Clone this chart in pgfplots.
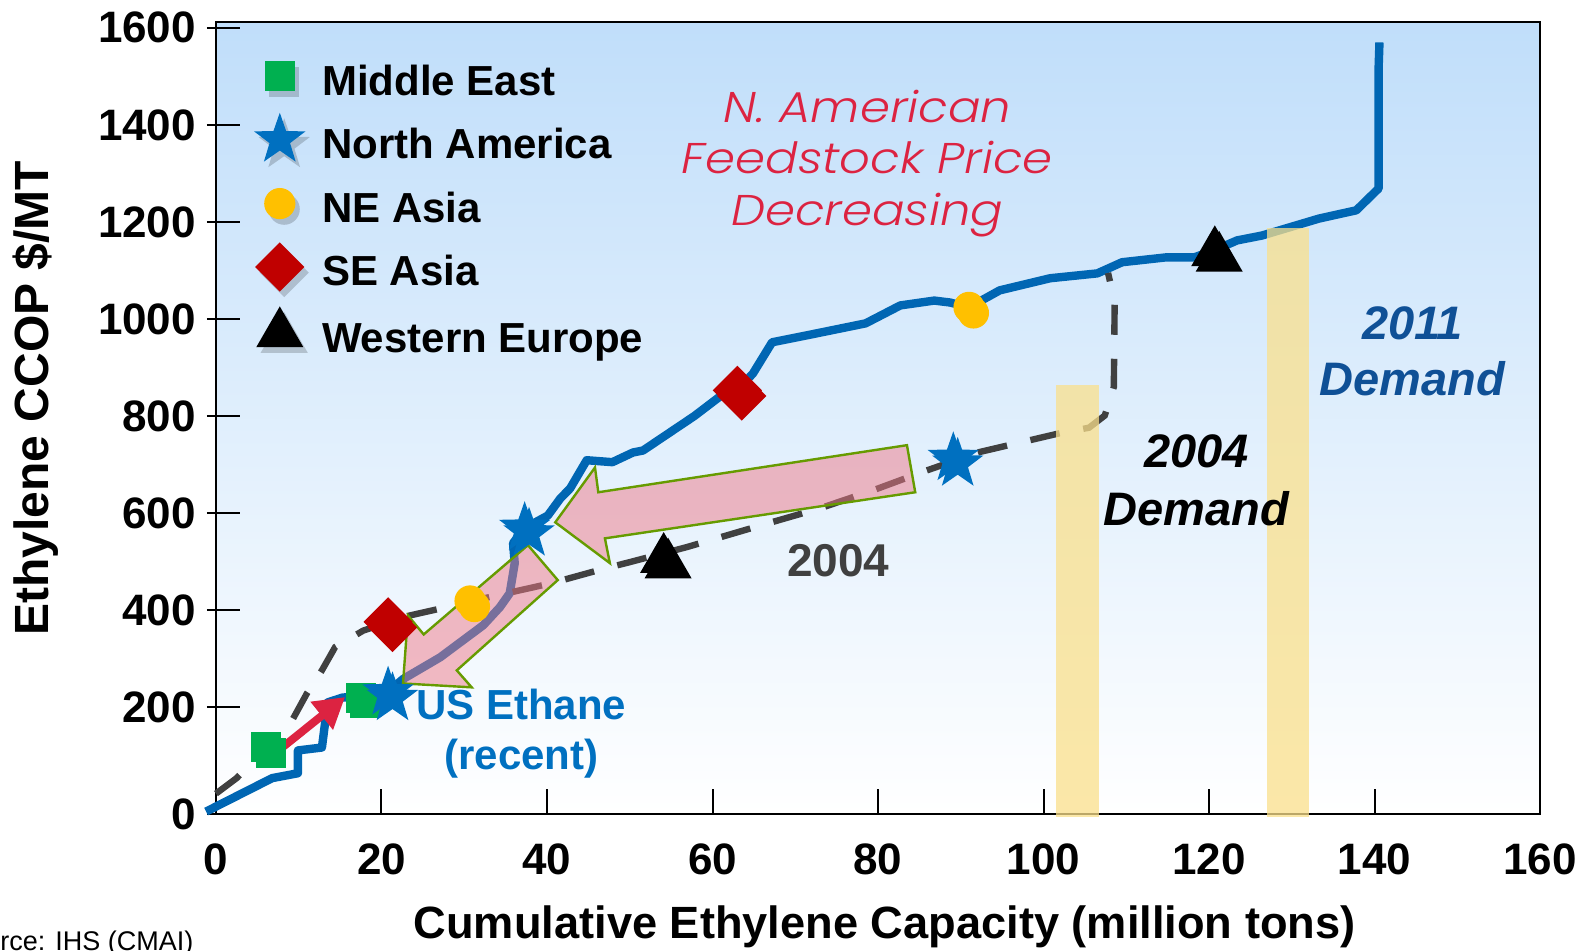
\documentclass[border=0pt]{standalone}
\usepackage{fontspec}
\setmainfont{Liberation Sans}
\newfontfamily\gothic[FakeStretch=1.12]{Poppins Light}
\usepackage{pgfplots}
\usepackage{pgfplotstable}
\pgfplotsset{compat=1.18}
\usetikzlibrary{arrows.meta}

\definecolor{curveblue}{RGB}{0,102,179}
\definecolor{dashgray}{RGB}{64,64,64}
\definecolor{crimson}{RGB}{220,35,65}
\definecolor{megreen}{RGB}{0,176,80}
\definecolor{nablue}{RGB}{0,112,192}
\definecolor{neyellow}{RGB}{255,192,0}
\definecolor{sered}{RGB}{192,0,0}
\definecolor{bgblue}{RGB}{192,222,250}
\definecolor{barfill}{RGB}{250,224,140}
\definecolor{arrowpink}{RGB}{238,120,135}
\definecolor{arrowgreen}{RGB}{102,155,0}
\definecolor{demandblue}{RGB}{15,80,150}

% filled marks
\pgfdeclareplotmark{fsquare}{%
  \pgfpathrectangle{\pgfqpoint{-\pgfplotmarksize}{-\pgfplotmarksize}}{\pgfqpoint{2\pgfplotmarksize}{2\pgfplotmarksize}}%
  \pgfusepathqfill}
\pgfdeclareplotmark{fcircle}{%
  \pgfpathcircle{\pgfpointorigin}{\pgfplotmarksize}\pgfusepathqfill}
\pgfdeclareplotmark{fdiamond}{%
  \pgfpathmoveto{\pgfqpoint{0pt}{\pgfplotmarksize}}%
  \pgfpathlineto{\pgfqpoint{\pgfplotmarksize}{0pt}}%
  \pgfpathlineto{\pgfqpoint{0pt}{-\pgfplotmarksize}}%
  \pgfpathlineto{\pgfqpoint{-\pgfplotmarksize}{0pt}}%
  \pgfpathclose\pgfusepathqfill}
\pgfdeclareplotmark{ftriangle}{%
  \pgfpathmoveto{\pgfqpoint{0pt}{\pgfplotmarksize}}%
  \pgfpathlineto{\pgfqpointpolar{210}{\pgfplotmarksize}}%
  \pgfpathlineto{\pgfqpointpolar{330}{\pgfplotmarksize}}%
  \pgfpathclose\pgfusepathqfill}
\pgfdeclareplotmark{fstar}{%
  \pgfpathmoveto{\pgfqpointpolar{90}{\pgfplotmarksize}}%
  \pgfpathlineto{\pgfqpointpolar{126}{0.4\pgfplotmarksize}}%
  \pgfpathlineto{\pgfqpointpolar{162}{\pgfplotmarksize}}%
  \pgfpathlineto{\pgfqpointpolar{198}{0.4\pgfplotmarksize}}%
  \pgfpathlineto{\pgfqpointpolar{234}{\pgfplotmarksize}}%
  \pgfpathlineto{\pgfqpointpolar{270}{0.4\pgfplotmarksize}}%
  \pgfpathlineto{\pgfqpointpolar{306}{\pgfplotmarksize}}%
  \pgfpathlineto{\pgfqpointpolar{342}{0.4\pgfplotmarksize}}%
  \pgfpathlineto{\pgfqpointpolar{18}{\pgfplotmarksize}}%
  \pgfpathlineto{\pgfqpointpolar{54}{0.4\pgfplotmarksize}}%
  \pgfpathclose\pgfusepathqfill}

% 2011 cost curve
\pgfplotstableread{
x y
-1.2 -15
6.8 54
9.9 64
9.9 111
12.8 117
13.5 210
15.3 220
17.5 222
20.8 232
22.6 258
27.1 303
32.3 369
34.3 406
35.5 435
36.1 497
35.9 538
37.3 569
40.1 595
41.6 630
42.8 651
44.8 709
47.9 705
50.4 725
51.6 729
57.8 800
60.8 839
63.0 853
64.9 888
67.2 952
71.3 966
78.5 991
82.7 1028
86.8 1038
88.7 1034
91.0 1024
94.7 1059
100.8 1084
106.5 1094
109.5 1117
114.8 1127
118.2 1127
120.7 1142
123.4 1162
126.4 1172
133.3 1207
137.8 1224
140.5 1269
140.5 1519
140.6 1570
}\curveeleven

% 2004 cost curve
\pgfplotstableread{
x y
0 22
2.5 54
9.2 173
11.0 229
12.8 276
14.4 324
17.8 358
20.8 375
23.4 389
27.3 404
30.7 418
40.4 455
47.0 486
50.0 499
56.9 530
66.5 578
73.0 610
79.4 647
85.9 688
92.3 726
101.8 764
105.5 776
107.4 801
108.5 860
108.6 1035
107.8 1095
}\curvefour

% regional markers
\pgfplotstableread{
x y
6.1 118
17.5 220
}\middleeast
\pgfplotstableread{
x y
20.8 230
37.3 569
89.1 713
}\northamerica
\pgfplotstableread{
x y
30.7 419
91.0 1024
}\neasia
\pgfplotstableread{
x y
20.8 376
63.0 853
}\seasia
\pgfplotstableread{
x y
54.1 505
120.7 1137
}\westeurope

\pgfplotsset{
  me/.style={mark=fsquare, mark size=7.5pt, mark options={fill=megreen}},
  na/.style={mark=fstar, mark size=13.5pt, mark options={fill=nablue}},
  ne/.style={mark=fcircle, mark size=7.8pt, mark options={fill=neyellow}},
  se/.style={mark=fdiamond, mark size=12.3pt, mark options={fill=sered}},
  we/.style={mark=ftriangle, mark size=13.6pt, mark options={fill=black}},
  markshadow/.style={forget plot, only marks, xshift=2.2pt, yshift=-2.8pt,
    mark options={fill=black, fill opacity=0.18}},
  markplot/.style={forget plot, only marks},
}

\begin{document}
\begin{tikzpicture}
\path[use as bounding box] (-108pt,-68pt) rectangle (682.5pt,407pt);
\begin{axis}[
  at={(0pt,0pt)}, anchor=south west,
  scale only axis, width=662pt, height=396pt,
  xmin=0, xmax=160, ymin=-20, ymax=1612,
  clip=false,
  axis background/.style={shade, top color=bgblue, bottom color=white},
  axis line style={line width=1.2pt, black},
  tick pos=left, tick align=inside,
  major tick length=12.5pt,
  xtick={0,20,...,160},
  ytick={200,400,...,1600},
  extra y ticks={-20}, extra y tick labels={0},
  extra y tick style={major tick length=0pt},
  xtick style={line width=1pt, black},
  ytick style={line width=1.2pt, black, /pgfplots/major tick length=16.5pt, xshift=-4.5pt},
  /pgf/number format/assume math mode=true,
  /pgf/number format/1000 sep={},
  tick label style={font=\bfseries\fontsize{22}{26}\selectfont},
  xticklabel style={yshift=-11.5pt},
  yticklabel style={xshift=-6.5pt},
  xlabel={Cumulative Ethylene Capacity (million tons)},
  ylabel={Ethylene CCOP \$/MT},
  xlabel style={at={(axis description cs:0.505,-0.142)}, anchor=center,
    font=\bfseries\fontsize{22.6}{27}\selectfont},
  ylabel style={at={(axis description cs:-0.136,0.525)}, anchor=center, rotate=0,
    font=\bfseries\fontsize{24}{28}\selectfont},
  legend image code/.code={%
    \path[#1, mark options={fill=black, fill opacity=0.18}] plot coordinates {(2.2pt,-3.3pt)};
    \path[#1] plot coordinates {(0pt,-0.5pt)};
  },
  legend cell align=left,
  legend style={at={(axis description cs:0.0288,0.968)}, anchor=north west,
    draw=none, fill=none, inner sep=0pt, outer sep=0pt,
    font=\bfseries\fontsize{21}{25}\selectfont,
    row sep=3.7pt, column sep=6.1pt,
    nodes={inner sep=0pt, text height=24pt, text depth=4pt}},
]
\addlegendimage{me}\addlegendentry{Middle East}
\addlegendimage{na}\addlegendentry{North America}
\addlegendimage{ne}\addlegendentry{NE Asia}
\addlegendimage{se}\addlegendentry{SE Asia}
\addlegendimage{we}\addlegendentry{Western Europe}

% cost curves
\addplot[forget plot, curveblue, line width=4.2pt, line join=round] table {\curveeleven};
\addplot[forget plot, dashgray, line width=3.2pt, dash pattern=on 15pt off 12pt] table {\curvefour};

% NE Asia markers sit beneath the block arrows
\addplot[markshadow, ne] table {\neasia};
\addplot[markplot, ne] table {\neasia};

% capacity shift arrow
\draw[crimson, line width=4pt, -{Triangle[length=15pt,width=17pt]}]
  (axis cs:8.0,117) -- (axis cs:15.6,221);

% block arrows
\filldraw[fill=arrowpink, fill opacity=0.5, draw=arrowgreen, line width=1.2pt]
  (axis cs:83.5,740) -- (axis cs:46.2,643) -- (axis cs:45.8,694) -- (axis cs:41.0,581)
  -- (axis cs:47.6,497) -- (axis cs:47.0,548) -- (axis cs:84.5,643) -- cycle;
\filldraw[fill=arrowpink, fill opacity=0.5, draw=arrowgreen, line width=1.2pt]
  (axis cs:22.6,249) -- (axis cs:30.9,241) -- (axis cs:29.1,276) -- (axis cs:41.3,462)
  -- (axis cs:37.7,534) -- (axis cs:25.1,350) -- (axis cs:23.2,389) -- cycle;

% demand bands
\fill[barfill, opacity=0.75] (axis cs:101.5,-27) rectangle (axis cs:106.7,865);
\fill[barfill, opacity=0.75] (axis cs:127.0,-27) rectangle (axis cs:132.1,1187);

% remaining regional markers
\addplot[markshadow, me] table {\middleeast};
\addplot[markplot, me] table {\middleeast};
\addplot[markshadow, na] table {\northamerica};
\addplot[markplot, na] table {\northamerica};
\addplot[markshadow, se] table {\seasia};
\addplot[markplot, se] table {\seasia};
\addplot[markshadow, we] table {\westeurope};
\addplot[markplot, we] table {\westeurope};

% annotations
\node[font=\gothic\itshape\fontsize{21.5}{25.8}\selectfont, text=crimson, align=center]
  at (axis cs:78.7,1321) {N. American\\Feedstock Price\\Decreasing};
\node[font=\bfseries\fontsize{21}{25}\selectfont, text=nablue, align=center]
  at (axis cs:36.9,146) {US Ethane\\(recent)};
\node[font=\bfseries\fontsize{23}{27}\selectfont, text=dashgray]
  at (axis cs:75.2,503) {2004};
\node[font=\bfseries\itshape\fontsize{23.5}{29}\selectfont, align=center]
  at (axis cs:118.5,668) {2004\\Demand};
\node[font=\bfseries\itshape\fontsize{23.5}{28}\selectfont, text=demandblue, align=center]
  at (axis cs:144.6,933) {2011\\Demand};
\end{axis}
\node[anchor=west, inner sep=0pt, font=\fontsize{13.5}{16}\selectfont]
  at (-132pt,-65pt) {Source: IHS (CMAI)};
\end{tikzpicture}
\end{document}
